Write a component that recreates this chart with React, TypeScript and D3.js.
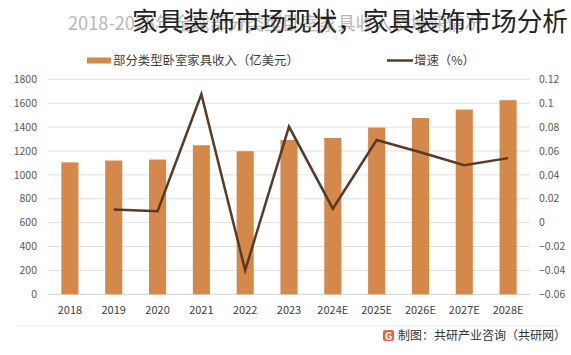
import React from "react";
import * as d3 from "d3";

const categories = ["2018", "2019", "2020", "2021", "2022", "2023", "2024E", "2025E", "2026E", "2027E", "2028E"];
const revenue = [1105, 1120, 1128, 1248, 1198, 1292, 1309, 1396, 1476, 1547, 1625];
const growth: (number | null)[] = [null, 0.011, 0.0095, 0.1075, -0.04, 0.0804, 0.0117, 0.0692, 0.0589, 0.048, 0.054];
const leftTicks = [0, 200, 400, 600, 800, 1000, 1200, 1400, 1600, 1800];
const rightTicks = [-0.06, -0.04, -0.02, 0, 0.02, 0.04, 0.06, 0.08, 0.1, 0.12];
const titleOverlay = "家具装饰市场现状，家具装饰市场分析";
const titleUnder = "2018-2028年全球部分类型卧室家具收入及增速情况";
const legendBar = "部分类型卧室家具收入（亿美元）";
const legendLine = "增速（%）";
const sourceText = "制图：共研产业咨询（共研网）";

const W = 571;
const H = 355;
const FONT = "'Noto Sans CJK SC', 'Noto Sans', sans-serif";
const BAR = "#D4894B";
const LINE = "#5A3A27";

export default function App() {
  const x = d3.scaleBand<string>().domain(categories).range([48, 530]).paddingInner(0.61).paddingOuter(0.305);
  const yL = d3.scaleLinear().domain([0, 1800]).range([294.3, 79.3]);
  const yR = d3.scaleLinear().domain([-0.06, 0.12]).range([294.3, 79.3]);
  const cx = (c: string) => (x(c) as number) + x.bandwidth() / 2;

  const pts = categories
    .map((c, i) => ({ c, v: growth[i] }))
    .filter((d) => d.v !== null) as { c: string; v: number }[];
  const line = d3
    .line<{ c: string; v: number }>()
    .x((d) => cx(d.c))
    .y((d) => yR(d.v));

  return (
    <svg width={W} height={H} style={{ position: "absolute", left: 0, top: 0, background: "#fff" }} fontFamily={FONT}>
      <rect x={0} y={0} width={W} height={H} fill="#fff" />
      {/* titles */}
      <text x={68} y={30} fontSize={18} fill="#b8b8b8" textLength={415} lengthAdjust="spacingAndGlyphs">{titleUnder}</text>
      <text x={132} y={31} fontSize={25.6} fill="#222" textLength={436} lengthAdjust="spacingAndGlyphs">{titleOverlay}</text>

      {/* legend */}
      <rect x={87} y={57.5} width={24} height={6} fill={BAR} />
      <text x={113} y={65} fontSize={12.4} fill="#404040">{legendBar}</text>
      <line x1={387} x2={413} y1={60.5} y2={60.5} stroke={LINE} strokeWidth={2.5} />
      <text x={414} y={65} fontSize={12.4} fill="#404040">{legendLine}</text>

      {/* gridlines */}
      {leftTicks.map((t) => (
        <line key={t} x1={48} x2={530} y1={yL(t)} y2={yL(t)} stroke={t === 0 ? "#d0d0d0" : "#e0e0e0"} strokeWidth={1} />
      ))}

      {/* bars */}
      {categories.map((c, i) => (
        <rect key={c} x={x(c)} y={yL(revenue[i])} width={x.bandwidth()} height={yL(0) - yL(revenue[i])} fill={BAR} />
      ))}

      {/* line */}
      <path d={line(pts) || ""} fill="none" stroke={LINE} strokeWidth={2.5} strokeLinejoin="miter" />

      {/* left axis labels */}
      {leftTicks.map((t) => (
        <text key={t} x={37} y={yL(t)} dy="0.35em" textAnchor="end" fontSize={10.5} fill="#595959">{t}</text>
      ))}
      {/* right axis labels */}
      {rightTicks.map((t) => (
        <text key={t} x={539} y={yR(t)} dy="0.35em" textAnchor="start" fontSize={10.5} fill="#595959">{d3.format("")(+t.toFixed(2))}</text>
      ))}
      {/* x labels */}
      {categories.map((c) => (
        <text key={c} x={cx(c)} y={314} textAnchor="middle" fontSize={11} fill="#404040">{c}</text>
      ))}

      {/* footer */}
      <line x1={15} x2={560} y1={326} y2={326} stroke="#ececec" />
      <rect x={383} y={330} width={11} height={11} rx={2} fill="#E8663A" />
      <text x={388.5} y={339.5} textAnchor="middle" fontSize={10} fontWeight="bold" fill="#fff">G</text>
      <text x={398} y={340} fontSize={12} fill="#333">{sourceText}</text>
    </svg>
  );
}
